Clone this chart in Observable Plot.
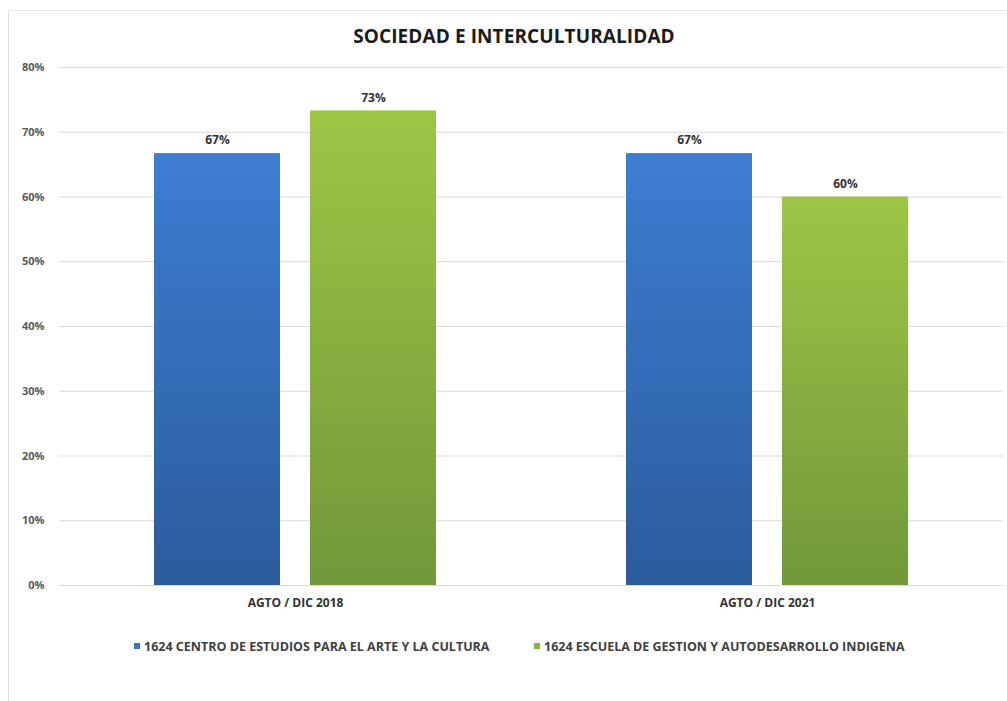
<!DOCTYPE html>
<html>
<head>
<meta charset="utf-8">
<script src="https://cdn.jsdelivr.net/npm/d3@7"></script>
<script src="https://cdn.jsdelivr.net/npm/@observablehq/plot@0.6"></script>
<style>
  html, body { margin: 0; padding: 0; background: #fff; }
  body { width: 1007px; height: 701px; position: relative; overflow: hidden; font-family: "Open Sans", "Liberation Sans", sans-serif; }
  #frame { position: absolute; left: 8px; top: 10px; width: 1010px; height: 700px; border-left: 1px solid #dcdcdc; border-top: 1px solid #e4e4e4; }
  #title { position: absolute; left: 0; width: 1028px; top: 23px; text-align: center; font-size: 19px; line-height: 26px; font-weight: bold; color: #1a1a1a; letter-spacing: 0.1px; }
  #chart { position: absolute; left: 0; top: 50px; }
  #legend { position: absolute; top: 638px; left: 0; width: 1007px; font-size: 12.5px; font-weight: bold; color: #404040; }
  .item { position: absolute; top: 0; white-space: nowrap; }
  .sw { display: inline-block; width: 6px; height: 6px; margin-right: 4px; vertical-align: 2px; }
</style>
</head>
<body>
<div id="frame"></div>
<div id="title">SOCIEDAD E INTERCULTURALIDAD</div>
<div id="chart"></div>
<div id="legend"></div>
<script>
const periods = ["AGTO / DIC 2018", "AGTO / DIC 2021"];
const seriesNames = [
  "1624 CENTRO DE ESTUDIOS PARA EL ARTE Y LA CULTURA",
  "1624 ESCUELA DE GESTION Y AUTODESARROLLO INDIGENA"
];
const centroValues = [0.667, 0.667];
const escuelaValues = [0.733, 0.60];
const yTicks = [0, 0.1, 0.2, 0.3, 0.4, 0.5, 0.6, 0.7, 0.8];
const gradIds = ["gBlue", "gGreen"];
const swatchColors = ["#3a74c4", "#8ab440"];

const data = [];
periods.forEach((p, i) => {
  data.push({period: p, series: seriesNames[0], value: centroValues[i]});
  data.push({period: p, series: seriesNames[1], value: escuelaValues[i]});
});

const chart = Plot.plot({
  width: 1007,
  height: 575,
  marginLeft: 58,
  marginRight: 4,
  marginTop: 17,
  marginBottom: 40,
  style: {fontFamily: "'Open Sans', 'Liberation Sans', sans-serif", background: "transparent"},
  fx: {domain: periods, padding: 0, label: null, axis: null},
  x: {domain: seriesNames, paddingInner: 0.191, paddingOuter: 0.6, axis: null},
  y: {domain: [0, 0.8], axis: null},
  color: {domain: seriesNames, range: gradIds.map(id => `url(#${id})`)},
  marks: [
    Plot.ruleY(yTicks, {stroke: "#d9d9d9", strokeWidth: 1.2}),
    Plot.axisY({ticks: yTicks, tickFormat: d => `${Math.round(d * 100)}%`, tickSize: 0, tickPadding: 15, fontSize: 11, fontWeight: "bold", fill: "#595959", label: null}),
    Plot.barY(data, {fx: "period", x: "series", y: "value", fill: "series"}),
    Plot.text(data, {fx: "period", x: "series", y: "value", text: d => `${Math.round(d.value * 100)}%`, dy: -13, fontSize: 12, fontWeight: "bold", fill: "#333"}),
    Plot.text(periods, {fx: d => d, frameAnchor: "bottom", text: d => d, dy: 21, fontSize: 12, fontWeight: "bold", fill: "#333"})
  ]
});

const svgNS = "http://www.w3.org/2000/svg";
const defs = document.createElementNS(svgNS, "defs");
const grads = [["gBlue", "#3d7dd3", "#2b5c9c"], ["gGreen", "#9dc646", "#71983a"]];
grads.forEach(([id, c1, c2]) => {
  const g = document.createElementNS(svgNS, "linearGradient");
  g.setAttribute("id", id);
  g.setAttribute("x1", "0"); g.setAttribute("y1", "0");
  g.setAttribute("x2", "0"); g.setAttribute("y2", "1");
  [[0, c1], [1, c2]].forEach(([o, c]) => {
    const s = document.createElementNS(svgNS, "stop");
    s.setAttribute("offset", o);
    s.setAttribute("stop-color", c);
    g.appendChild(s);
  });
  defs.appendChild(g);
});
chart.insertBefore(defs, chart.firstChild);
document.getElementById("chart").appendChild(chart);

const legend = document.getElementById("legend");
const lefts = [134, 534];
seriesNames.forEach((s, i) => {
  const it = document.createElement("div");
  it.className = "item";
  it.style.left = lefts[i] + "px";
  it.innerHTML = `<span class="sw" style="background:${swatchColors[i]}"></span>${s}`;
  legend.appendChild(it);
});
</script>
</body>
</html>
